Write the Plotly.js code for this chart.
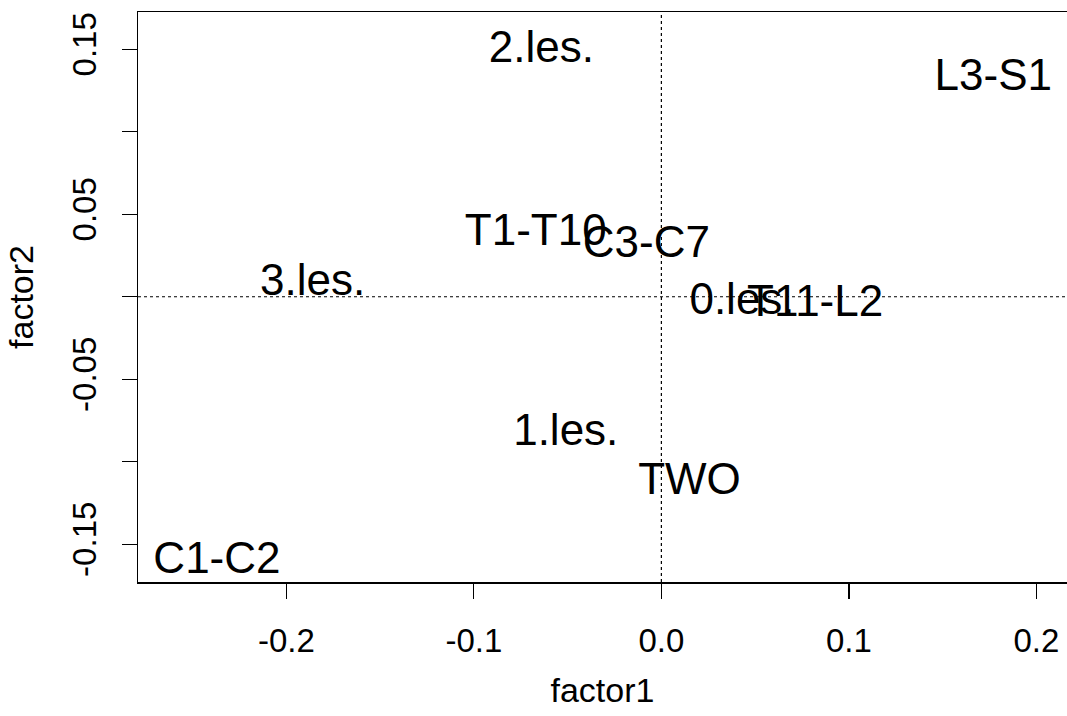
<!DOCTYPE html>
<html>
<head>
<meta charset="utf-8">
<script src="https://cdn.plot.ly/plotly-3.0.1.min.js"></script>
<style>
  html, body { margin: 0; padding: 0; background: #ffffff; }
  #chart { width: 1067px; height: 716px; }
</style>
</head>
<body>
<div id="chart"></div>
<script>
// Labels and their coordinates on the two factors
var labels  = ["C1-C2", "C3-C7", "T1-T10", "T11-L2", "L3-S1", "TWO", "0.les.", "1.les.", "2.les.", "3.les."];
var factor1 = [-0.237, -0.008, -0.067, 0.082, 0.177, 0.015, 0.043, -0.051, -0.064, -0.186];
var factor2 = [-0.161, 0.031, 0.038, -0.005, 0.132, -0.113, -0.004, -0.083, 0.149, 0.008];

// Tick marks and labels
var xTickVals = [-0.2, -0.1, 0.0, 0.1, 0.2];
var xTickText = ["-0.2", "-0.1", "0.0", "0.1", "0.2"];
var yTickVals = [-0.15, -0.10, -0.05, 0.00, 0.05, 0.10, 0.15];
var yTickText = ["-0.15", "", "-0.05", "", "0.05", "", "0.15"];

var FONT = "Liberation Sans, Arial, sans-serif";

var trace = {
  type: "scatter",
  mode: "text",
  x: factor1,
  y: factor2,
  text: labels,
  textposition: "middle center",
  textfont: { family: FONT, size: 44, color: "#000000" },
  hoverinfo: "text",
  showlegend: false,
  cliponaxis: false
};

var layout = {
  width: 1067,
  height: 716,
  paper_bgcolor: "#ffffff",
  plot_bgcolor: "#ffffff",
  margin: { l: 138, r: 0, t: 12, b: 134 },
  font: { family: FONT, color: "#000000" },
  showlegend: false,
  xaxis: {
    range: [-0.2791, 0.2163],
    tickmode: "array",
    tickvals: xTickVals,
    ticktext: xTickText,
    ticks: "outside",
    ticklen: 15,
    tickwidth: 1.2,
    tickcolor: "#000000",
    ticklabelstandoff: 14,
    tickfont: { family: FONT, size: 33, color: "#000000" },
    showline: true,
    linecolor: "#000000",
    linewidth: 1.5,
    mirror: true,
    showgrid: false,
    zeroline: false,
    title: { text: "factor1", font: { family: FONT, size: 34, color: "#000000" }, standoff: 20 }
  },
  yaxis: {
    range: [-0.1729, 0.1726],
    tickmode: "array",
    tickvals: yTickVals,
    ticktext: yTickText,
    tickangle: -90,
    ticks: "outside",
    ticklen: 15,
    tickwidth: 1.2,
    tickcolor: "#000000",
    ticklabelstandoff: 12,
    tickfont: { family: FONT, size: 33, color: "#000000" },
    showline: true,
    linecolor: "#000000",
    linewidth: 1.5,
    mirror: false,
    showgrid: false,
    zeroline: false,
    title: { text: "factor2", font: { family: FONT, size: 34, color: "#000000" }, standoff: 22 }
  },
  shapes: [
    { type: "line", xref: "paper", x0: 0, x1: 1, yref: "y", y0: 0, y1: 0,
      line: { color: "#000000", width: 1.2, dash: "dot" } },
    { type: "line", yref: "paper", y0: 0, y1: 1, xref: "x", x0: 0, x1: 0,
      line: { color: "#000000", width: 1.2, dash: "dot" } }
  ]
};

Plotly.newPlot("chart", [trace], layout, { displayModeBar: false, staticPlot: true });
</script>
</body>
</html>
